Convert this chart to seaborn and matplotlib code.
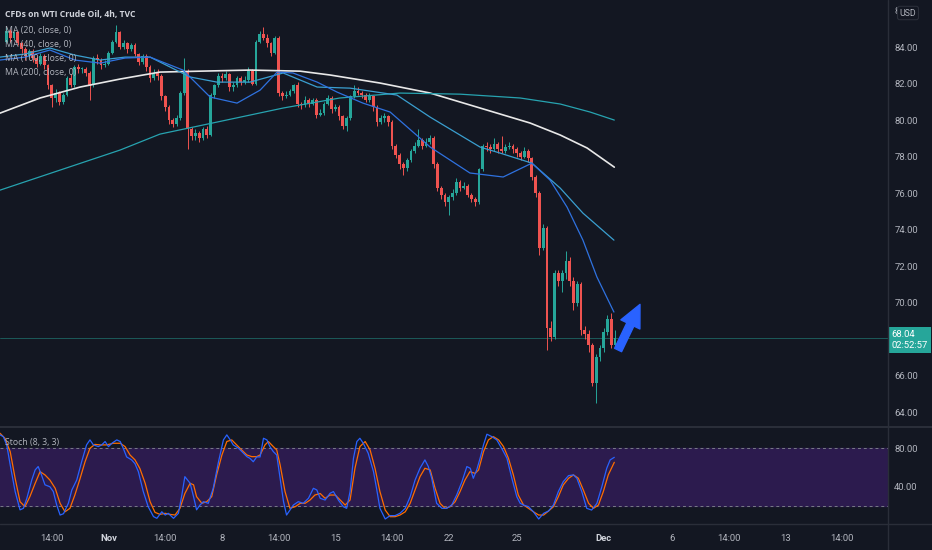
import numpy as np
import matplotlib
matplotlib.use("Agg")
import matplotlib.pyplot as plt
import seaborn as sns
from matplotlib import font_manager
from matplotlib.lines import Line2D
from matplotlib.transforms import blended_transform_factory

# ---- data (x = 4h candle index, 0 = first visible candle) ----
first_open = 84.3
closes = [84.9, 84.5, 84.8, 84.2, 83.9, 83.5, 83.8, 83.4, 83.1, 83.5,
          83.0, 81.9, 81.2, 81.5, 81.0, 81.4, 82.3, 81.9, 82.9, 82.8,
          82.8, 82.6, 81.9, 83.4, 83.3, 83.0, 83.1, 83.7, 84.3, 84.8,
          84.0, 84.2, 83.9, 84.1, 83.6, 83.2, 83.5, 82.9, 82.3, 82.6,
          82.4, 81.3, 80.7, 80.0, 79.8, 80.1, 81.5, 82.7, 79.5, 79.1,
          79.3, 79.0, 79.5, 79.2, 81.4, 81.9, 82.4, 82.3, 82.5, 81.8,
          81.9, 82.3, 82.1, 82.2, 82.7, 82.0, 84.3, 84.7, 84.5, 84.2,
          83.7, 84.5, 81.5, 81.3, 81.4, 81.6, 81.9, 80.9, 80.8, 81.1,
          80.9, 81.1, 80.3, 80.4, 80.9, 81.2, 80.6, 80.7, 80.2, 79.7,
          80.1, 81.3, 81.6, 81.5, 81.4, 81.1, 81.3, 80.7, 79.9, 80.1,
          80.2, 79.9, 78.6, 78.1, 77.6, 77.4, 77.8, 78.3, 78.6, 78.9,
          78.6, 78.8, 79.0, 77.6, 76.3, 75.9, 75.5, 75.8, 76.0, 76.6,
          76.3, 76.4, 75.9, 75.7, 75.5, 77.3, 78.6, 78.5, 78.4, 78.7,
          78.4, 78.3, 78.5, 78.6, 78.4, 78.2, 78.0, 78.3, 77.9, 76.9,
          76.0, 73.0, 74.1, 68.6, 68.1, 71.6, 71.2, 71.6, 72.3, 71.2,
          70.0, 71.0, 68.5, 68.3, 67.7, 65.6, 67.0, 67.5, 68.4, 69.1,
          67.7, 68.04]
highs = [85.1, 85.0, 84.9, 84.9, 84.3, 84.0, 83.9, 83.9, 83.5, 83.7,
         83.6, 83.1, 82.0, 81.7, 81.6, 81.5, 82.4, 82.5, 83.0, 83.1,
         82.9, 82.9, 82.7, 83.5, 83.6, 83.4, 83.3, 83.8, 84.4, 85.2,
         84.9, 84.4, 84.3, 84.2, 84.2, 83.7, 83.6, 83.6, 83.0, 82.8,
         82.8, 82.5, 81.4, 80.8, 80.1, 80.3, 81.6, 83.4, 82.8, 79.6,
         79.5, 79.4, 79.6, 79.7, 81.5, 82.0, 82.6, 82.6, 82.7, 82.6,
         82.1, 82.4, 82.4, 82.4, 82.9, 82.8, 84.4, 84.9, 85.1, 84.7,
         84.3, 84.6, 84.6, 81.6, 81.6, 81.7, 82.0, 82.1, 81.0, 81.3,
         81.2, 81.2, 81.2, 80.6, 81.0, 81.4, 81.3, 80.9, 80.8, 80.3,
         80.2, 81.4, 81.9, 81.8, 81.6, 81.5, 81.5, 81.4, 80.8, 80.3,
         80.4, 80.3, 80.0, 78.7, 78.2, 77.7, 77.9, 78.4, 78.8, 79.5,
         79.0, 79.0, 79.2, 79.1, 77.7, 76.4, 76.0, 75.9, 76.2, 76.8,
         76.7, 76.6, 76.5, 76.0, 75.8, 77.4, 78.7, 78.8, 78.7, 79.0,
         78.8, 79.1, 78.7, 78.8, 78.7, 78.5, 78.3, 78.5, 78.4, 78.0,
         77.0, 76.1, 74.3, 74.2, 69.0, 71.8, 71.8, 71.8, 72.8, 72.5,
         71.4, 71.2, 71.1, 68.7, 68.5, 67.8, 67.2, 67.7, 68.6, 69.3,
         69.4, 68.5]
lows = [84.2, 84.3, 84.4, 84.1, 83.7, 83.3, 83.4, 83.2, 82.9, 83.0,
        82.8, 81.7, 80.7, 81.0, 80.8, 80.9, 81.3, 81.8, 81.8, 82.6,
        82.6, 82.4, 81.1, 81.8, 83.1, 82.8, 82.9, 83.0, 83.6, 84.2,
        83.9, 83.9, 83.7, 83.8, 83.5, 83.0, 83.1, 82.7, 82.1, 82.2,
        82.2, 81.1, 80.5, 79.8, 79.6, 79.7, 80.0, 81.4, 78.4, 78.9,
        78.9, 78.8, 78.9, 79.0, 79.1, 81.2, 81.8, 82.1, 82.2, 81.6,
        81.6, 81.8, 81.9, 82.0, 82.1, 81.9, 81.9, 84.2, 84.4, 84.0,
        83.5, 83.6, 81.3, 81.1, 81.2, 81.3, 81.5, 80.7, 80.6, 80.7,
        80.7, 80.8, 80.1, 80.2, 80.3, 80.8, 80.4, 80.5, 80.0, 79.5,
        79.4, 80.0, 81.2, 81.4, 81.2, 81.0, 81.0, 80.5, 79.7, 79.8,
        79.9, 79.7, 78.4, 77.9, 77.3, 77.0, 77.2, 77.7, 78.2, 78.5,
        78.4, 78.5, 78.7, 77.4, 76.1, 75.7, 75.3, 74.8, 75.6, 75.9,
        76.1, 76.2, 75.8, 75.5, 75.3, 75.4, 77.2, 78.3, 78.2, 78.3,
        78.2, 78.2, 78.2, 78.4, 78.2, 78.0, 77.8, 77.9, 77.7, 76.7,
        75.8, 72.6, 72.9, 67.4, 67.9, 68.0, 70.9, 70.6, 71.3, 70.9,
        69.6, 69.8, 68.2, 68.0, 67.3, 65.4, 64.5, 66.8, 67.3, 68.2,
        67.5, 67.6]

# moving averages, sampled along each line
ma20_x = [-1.7, 4.9, 11.5, 18.1, 24.8, 31.4, 38.0, 46.7, 53.9, 61.0, 67.1, 71.6, 75.8,
          82.2, 87.5, 94.3, 101.5, 112.1, 122.6, 131.4, 139.0, 143.8, 148.3, 152.5, 156.2, 160.7]
ma20 = [83.29, 83.45, 83.84, 83.29, 83.12, 83.40, 83.45, 82.74, 81.26, 80.93, 81.64, 82.63, 82.58,
        82.08, 81.53, 80.93, 80.44, 78.52, 77.10, 76.88, 77.64, 76.71, 75.23, 73.42, 71.40, 69.48]
ma40_x = [-1.7, 4.9, 11.5, 18.1, 24.8, 31.4, 38.0, 48.6, 55.7, 64.4, 73.2, 82.2, 90.9,
          103.3, 112.1, 125.3, 130.6, 139.0, 146.5, 152.5, 160.7]
ma40 = [83.45, 83.62, 83.95, 83.56, 83.29, 83.45, 83.45, 82.36, 82.08, 82.08, 82.58, 81.81, 81.75,
        81.37, 80.16, 78.52, 78.19, 77.64, 76.27, 74.90, 73.42]
ma100_x = [-1.7, 14.2, 30.1, 40.6, 55.7, 73.2, 88.2, 104.1, 120.0, 135.9, 146.5, 154.4, 160.8]
ma100 = [76.16, 77.26, 78.36, 79.23, 79.89, 80.66, 81.21, 81.48, 81.42, 81.21, 80.88, 80.44, 80.00]
ma200_x = [-1.7, 8.9, 19.5, 30.1, 40.6, 51.2, 64.4, 77.7, 85.6, 98.8, 112.1, 125.3,
           138.5, 146.5, 153.6, 160.8]
ma200 = [80.38, 81.21, 81.81, 82.25, 82.63, 82.68, 82.74, 82.68, 82.47, 82.03, 81.48, 80.66,
         79.84, 79.18, 78.47, 77.42]

# stochastic (8, 3, 3)
k_x = [-1.7, -0.8, 0.1, 1.0, 2.3, 3.6, 4.5, 5.4, 6.7, 7.6, 8.4, 9.3, 10.2, 11.5, 12.4, 13.3,
       14.2, 15.1, 16.4, 17.3, 18.6, 19.9, 21.2, 22.1, 23.0, 24.3, 25.2, 26.1, 27.0, 27.9,
       29.2, 30.1, 30.9, 31.8, 33.1, 34.0, 34.9, 36.2, 37.5, 38.9, 39.8, 41.1, 42.0, 42.8,
       44.2, 45.5, 46.4, 47.2, 48.6, 49.5, 50.3, 51.2, 52.1, 53.4, 54.7, 56.1, 57.4, 58.3,
       59.2, 60.0, 61.4, 62.7, 63.6, 64.4, 65.3, 66.2, 67.1, 68.0, 68.9, 69.7, 70.6, 71.5,
       72.4, 73.3, 74.1, 75.0, 75.9, 77.2, 78.5, 79.9, 81.2, 82.1, 83.0,
       84.3, 85.6, 86.5, 87.8, 89.1, 90.0, 90.9, 91.8, 92.7, 93.5, 94.4, 95.7, 97.1, 97.9,
       98.8, 100.2, 101.5, 102.8, 104.1, 105.5, 106.8, 108.1, 109.4, 110.7, 111.6, 112.5,
       113.8, 115.2, 116.5, 117.8, 119.1, 120.5, 121.8, 122.7, 123.5, 124.4, 125.3, 126.2,
       127.1, 128.4, 129.7, 131.0, 132.4, 133.7, 135.0, 135.9, 136.8, 138.1, 139.4, 140.8,
       142.1, 143.4, 144.7, 146.0, 147.3, 148.7, 150.0, 150.9, 152.2, 153.5, 154.8, 156.2,
       157.5, 158.8, 159.7, 160.8]
stoch_k = [94, 92, 83, 62.7, 35, 16, 17.6, 28, 47, 57.5, 61, 52, 42, 40, 35, 21, 10.6, 12, 23,
           36.6, 47, 66, 83.5, 88.7, 83.5, 81.7, 83.5, 87, 81.7, 85.2, 88.7, 87, 80, 71, 68, 64,
           55.7, 35, 19.3, 9, 7.2, 14, 10.6, 12.4, 7.2, 12.4, 31.4, 50.5, 43.6, 29.7, 16, 21,
           24.5, 22.8, 38.4, 66, 88.7, 93.9, 88.7, 83.5, 80, 74.8, 71.3, 69.6, 66, 71, 71, 90.4,
           88.7, 81.7, 76.5, 73, 48.8, 24.5, 10.6, 15.8, 21, 24.5, 22.8, 28, 38.4, 36.7, 28,
           26.2, 33.2, 35, 26.2, 19.3, 17.6, 35, 69.6, 87, 90.4, 85.2, 74.8, 55.7, 38.4, 17.6,
           6.5, 10, 10, 12.4, 17.6, 29.7, 47, 59.2, 67.9, 61, 48.8, 22.8, 17.6, 17.6, 21, 31.4,
           45.3, 61, 59.2, 48.8, 57.5, 69.6, 83.5, 94.6, 92.1, 88.7, 80, 69.6, 48.8, 29.7, 22.8,
           21, 19.3, 14, 6.5, 12.4, 14.8, 21, 35, 45.3, 51.6, 52.3, 48.8, 35, 17.6, 15.8, 22.8,
           40, 59.2, 67.9, 70.6]
d_x = [-1.7, -0.4, 1.0, 2.3, 3.6, 4.9, 6.2, 7.6, 8.9, 10.2, 11.5, 12.9, 14.2, 15.5, 16.8,
       18.1, 19.5, 20.8, 22.1, 23.4, 24.8, 26.5, 28.3, 30.1, 31.4, 32.7, 34.0, 35.3, 36.7,
       38.0, 39.3, 40.6, 42.0, 43.3, 44.6, 45.9, 47.2, 48.6, 49.5, 50.3, 51.7, 53.0, 54.3,
       55.6, 57.0, 58.3, 59.6, 60.9, 62.2, 63.6, 64.9, 66.2, 67.1, 68.4, 69.3, 70.6, 71.5,
       72.4, 73.7, 75.0, 76.4, 77.7, 79.0, 80.3, 81.6, 83.0,
       84.3, 85.6, 87.0, 88.3, 89.6, 90.9, 92.2, 93.5, 94.9, 96.2, 97.5, 98.8, 100.2, 101.5,
       102.8, 104.1, 105.5, 106.8, 108.1, 109.4, 110.7, 112.1, 113.4, 114.7, 116.0, 117.4,
       118.7, 120.0, 121.3, 122.6, 124.0, 124.9, 126.2, 127.5, 128.8, 130.2, 131.5, 132.8,
       134.1, 135.4, 136.8, 138.1, 139.4, 140.8, 142.1, 143.4, 144.7, 146.0, 147.3, 148.7,
       150.0, 151.3, 152.6, 154.0, 155.3, 156.6, 157.9, 159.2, 160.8]
stoch_d = [95.6, 90.4, 76.5, 48.8, 24.5, 19.3, 29.7, 43.6, 55.7, 52.3, 47, 38.4, 22.8, 14,
           17.6, 31.4, 48.8, 66, 80, 84, 83.5, 83.5, 85.2, 85.2, 81.7, 73, 68, 59, 43.6, 24.5,
           13.4, 11.3, 12.4, 11.3, 10.6, 17.6, 33, 43.6, 42, 29.7, 22.8, 24.5, 29.7, 52.3, 73,
           87, 88.7, 83.5, 78.3, 73, 71.3, 71.3, 73, 83.5, 87, 81.7, 78.3, 62.7, 35, 17.6, 19.3,
           22.8, 22.8, 26.2, 31.4, 33,
           28, 31.4, 31.4, 26.2, 21, 26.2, 59.2, 81.7, 87, 78.3, 59.2, 35, 15.8, 8.9, 8.9, 10.6,
           14, 22.8, 36.7, 50.5, 59.2, 57.5, 38.4, 22.8, 17.6, 19.3, 24.5, 35, 47, 55.7, 53.9,
           57.5, 76.5, 88.7, 92.1, 88.7, 81.7, 69.6, 52.3, 31.4, 21, 17.6, 14, 10.6, 10.6, 14.8,
           19.3, 29.7, 41.9, 48.8, 52.3, 48.8, 36.7, 22.8, 17.6, 21, 35, 52.3, 65.4]

# time axis
tick_pos = [12, 27, 42, 57, 72, 87, 102, 117, 135, 158, 176, 191, 206, 221]
tick_labels = ["14:00", "Nov", "14:00", "8", "14:00", "15", "14:00", "22", "25", "Dec",
               "6", "14:00", "13", "14:00"]
# 68.00 sits under the last-price label, so it is not listed
price_ticks = [64, 66, 70, 72, 74, 76, 78, 80, 82, 84, 86]
stoch_ticks = [40, 80]

last_price = 68.04
countdown = "02:52:57"
arrow_from = (161.8, 67.4)
arrow_to = (167.6, 69.9)

# ---- style ----
bg = "#131722"
sep = "#2a2e39"
txt = "#b2b5be"
up_col = "#26a69a"
down_col = "#ef5350"

sns.set_theme(style="dark", rc={"axes.facecolor": bg, "figure.facecolor": bg})
names = {f.name for f in font_manager.fontManager.ttflist}
num_font = "Liberation Sans Narrow" if "Liberation Sans Narrow" in names else "Roboto"
plt.rcParams["font.family"] = [num_font, "DejaVu Sans"]
label_font = ["Open Sans", "DejaVu Sans"]

W, H = 932, 550
fig = plt.figure(figsize=(W / 100, H / 100), dpi=100)
ax = fig.add_axes([0, 123 / H, 888 / W, 427 / H])
axs = fig.add_axes([0, 26 / H, 888 / W, 97 / H], sharex=ax)
for a in (ax, axs):
    a.set_facecolor(bg)
    for s in a.spines.values():
        s.set_visible(False)
    a.grid(False)

# ---- candles ----
o = np.array([first_open] + closes[:-1])
c = np.array(closes)
x = np.arange(len(c))
cols = np.where(c >= o, up_col, down_col)
ax.vlines(x, lows, highs, colors=cols, linewidth=0.7, zorder=2)
body = np.maximum(np.abs(c - o), 0.04)
ax.bar(x, body, bottom=np.minimum(o, c), width=0.74, color=cols, linewidth=0, zorder=3)

# moving averages
sns.lineplot(x=ma200_x, y=ma200, ax=ax, color="#e8e8e8", linewidth=1.2, estimator=None, zorder=4)
sns.lineplot(x=ma100_x, y=ma100, ax=ax, color="#27a3b0", linewidth=0.9, estimator=None, zorder=4)
sns.lineplot(x=ma40_x, y=ma40, ax=ax, color="#3a9fd0", linewidth=0.9, estimator=None, zorder=4)
sns.lineplot(x=ma20_x, y=ma20, ax=ax, color="#2f72e0", linewidth=0.9, estimator=None, zorder=4)

# last price line + label
ax.axhline(last_price, color=up_col, linewidth=0.6, alpha=0.55, zorder=1)
tr = blended_transform_factory(ax.transAxes, ax.transData)
ax.text(1.004, last_price + 0.45, f"{last_price:.2f}\n{countdown}", transform=tr,
        ha="left", va="top", color="white", fontsize=6.8, linespacing=1.3,
        bbox=dict(boxstyle="square,pad=0.3", fc=up_col, ec="none"), clip_on=False, zorder=6)

ax.annotate("", xy=arrow_to, xytext=arrow_from,
            arrowprops=dict(arrowstyle="simple,head_length=1.0,head_width=0.95,tail_width=0.35",
                            color="#2962ff", mutation_scale=16, shrinkA=0, shrinkB=0), zorder=5)

ax.set_xlim(-1.7, 233.2)
ax.set_ylim(63.18, 86.58)
ax.yaxis.tick_right()
ax.set_yticks(price_ticks)
ax.set_yticklabels([f"{v:.2f}" for v in price_ticks])
ax.tick_params(axis="y", length=0, pad=4.5, labelcolor=txt, labelsize=6.8)
ax.tick_params(axis="x", bottom=False, labelbottom=False)
ax.set_xlabel("")
ax.set_ylabel("")

# ---- stochastic panel ----
axs.axhspan(20, 80, color="#2c1b4e", zorder=0)
for lvl in (20, 80):
    axs.axhline(lvl, color="#787b86", linewidth=0.7, linestyle=(0, (3, 3)), zorder=1)
sns.lineplot(x=k_x, y=stoch_k, ax=axs, color="#2962ff", linewidth=0.9, estimator=None, zorder=3)
sns.lineplot(x=d_x, y=stoch_d, ax=axs, color="#ff6d00", linewidth=0.9, estimator=None, zorder=2)
axs.set_ylim(1.3, 102.1)
axs.yaxis.tick_right()
axs.set_yticks(stoch_ticks)
axs.set_yticklabels([f"{v:.2f}" for v in stoch_ticks])
axs.tick_params(axis="y", length=0, pad=4.5, labelcolor=txt, labelsize=6.8)
axs.set_xticks(tick_pos)
axs.set_xticklabels(tick_labels)
axs.tick_params(axis="x", length=0, pad=7, labelcolor=txt, labelsize=6.8)
for lab in axs.get_xticklabels():
    if lab.get_text() in ("Nov", "Dec"):
        lab.set_fontweight("bold")
        lab.set_color("#d1d4dc")
axs.set_xlabel("")
axs.set_ylabel("")

# ---- separators ----
fig.add_artist(Line2D([888 / W, 888 / W], [0, 1], transform=fig.transFigure, color=sep, lw=1))
fig.add_artist(Line2D([0, 1], [123 / H, 123 / H], transform=fig.transFigure, color=sep, lw=1.5))
fig.add_artist(Line2D([0, 1], [26 / H, 26 / H], transform=fig.transFigure, color=sep, lw=1))

# ---- legend texts ----
fig.text(5 / W, 1 - 15 / H, "CFDs on WTI Crude Oil, 4h, TVC", color="#d1d4dc", fontsize=6.2,
         fontweight="bold", va="center", family=label_font)
for k, lab in enumerate(["MA (20, close, 0)", "MA (40, close, 0)",
                         "MA (100, close, 0)", "MA (200, close, 0)"]):
    fig.text(5 / W, 1 - (30 + 14.3 * k) / H, lab, color=txt, fontsize=6.3, va="center",
             family=label_font)
fig.text(5 / W, 1 - 443 / H, "Stoch (8, 3, 3)", color=txt, fontsize=6.3, va="center",
         family=label_font)
fig.text(908 / W, 1 - 13 / H, "USD", color=txt, fontsize=6.3, ha="center", va="center",
         bbox=dict(boxstyle="round,pad=0.25", fc=bg, ec=sep, lw=0.8))

fig.savefig("out.png", dpi=100, facecolor=bg)
